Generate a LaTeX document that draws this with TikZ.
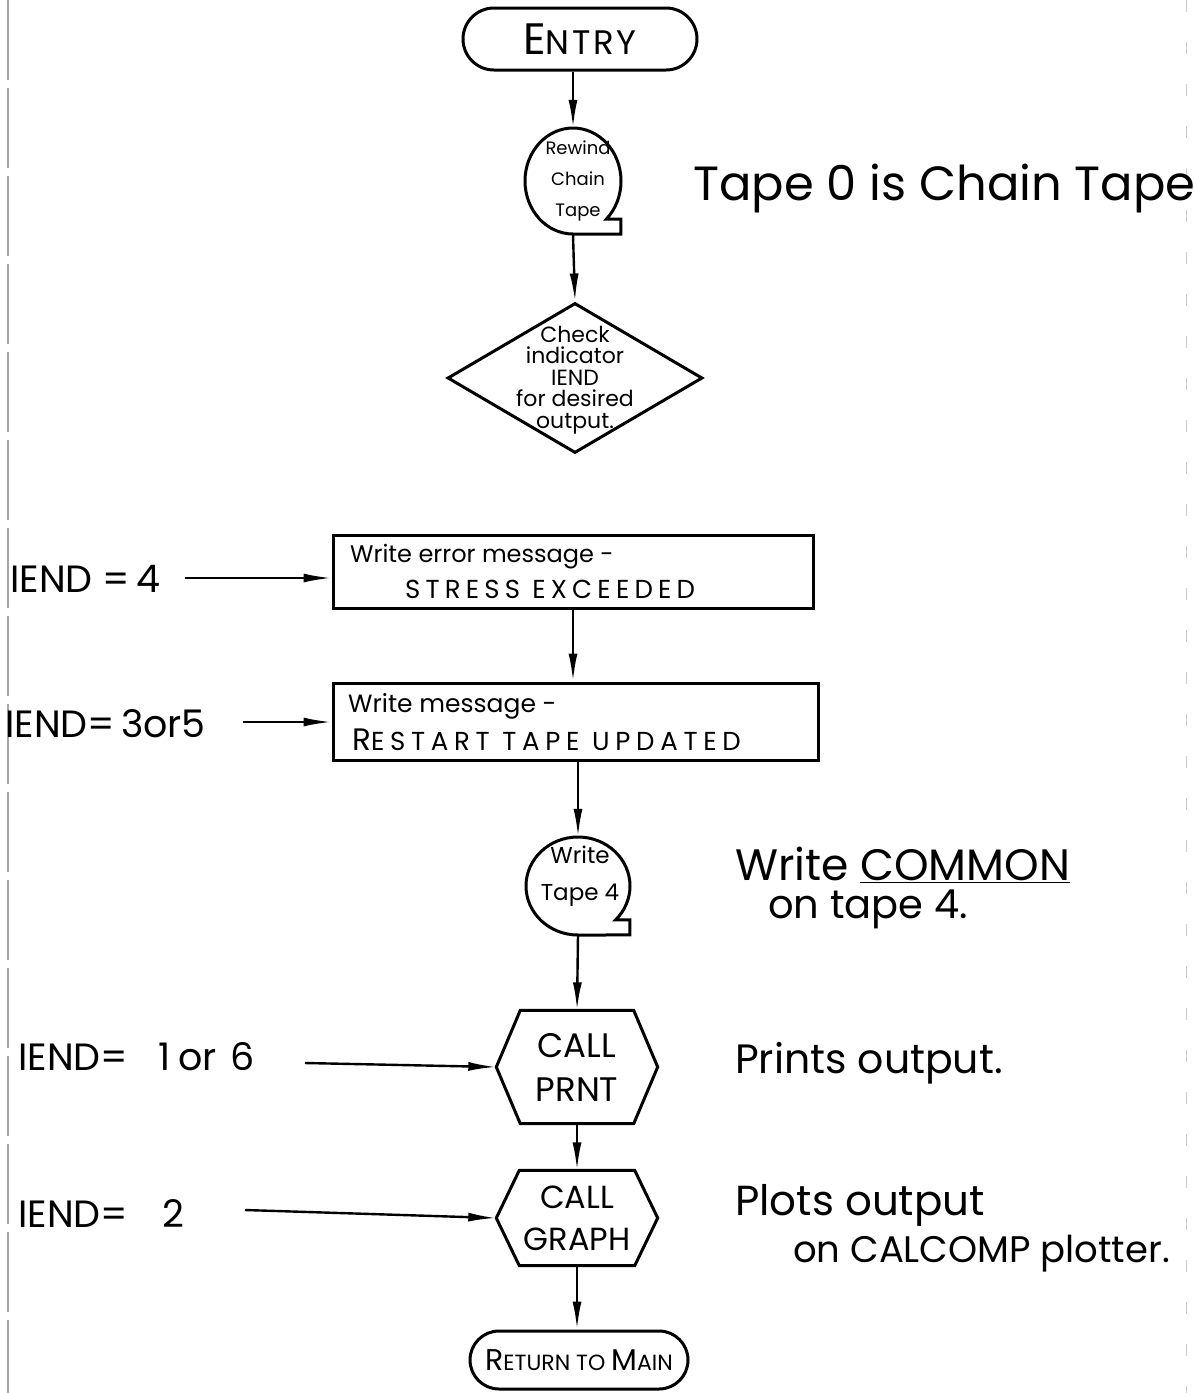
\documentclass[tikz,border=0pt]{standalone}
\usepackage{fontspec}
\setmainfont{Poppins}
\usetikzlibrary{arrows.meta,shapes.geometric}
\newcommand\fs[2]{\fontsize{#1}{#2}\selectfont}
\newcommand\ls[1]{\addfontfeatures{LetterSpace=#1}}
\begin{document}
\begin{tikzpicture}[x=1pt,y=1pt,
  conn/.style={line width=2.4pt,-{Latex[length=28pt,width=9pt]}},
  shp/.style={draw, line width=3pt, inner sep=0pt},
  outl/.style={line width=3pt},
  lbl/.style={inner sep=0pt, anchor=base west},
  big/.style={font=\fs{38}{40}},
]
\useasboundingbox (0,0) rectangle (1194,-1393);
\fill[white] (0,0) rectangle (1194,-1393);
% page edges
\draw[gray!70, line width=1.2pt, dash pattern=on 80pt off 8pt] (8,0) -- (8,-1393);
\draw[gray!40, line width=1pt, dash pattern=on 12pt off 30pt] (1186,0) -- (1186,-1393);

% ENTRY
\node[shp, rounded corners=31pt, minimum width=234pt, minimum height=62pt] (entry) at (580,-39) {\fs{44}{44}\ls{8}E\fs{34}{34}\ls{8}NTRY};

% tape 1
\node[ellipse, minimum width=96pt, minimum height=106pt, inner sep=0pt] (t1) at (573,-181) {};
\draw[outl] (t1.center) ++(0,-53) arc[start angle=270,end angle=-45.8,x radius=48pt,y radius=53pt] -- ++(14.5,0) -- ++(0,-15) -- cycle;
\node[align=center, font=\fs{18}{31}, inner sep=0pt] (t1t) at (578,-181) {Rewind\\Chain\\Tape};

% diamond
\node[diamond, draw, line width=3pt, minimum width=255pt, minimum height=150pt, inner sep=0pt] (chk) at (575,-378) {};
\node[align=center, font=\fs{22}{21.5}, inner sep=0pt] (chkt) at ([yshift=-2pt]chk.center) {Check\\indicator\\IEND\\for desired\\output.};

% boxes
\node[shp, minimum width=480pt, minimum height=73pt] (b1) at (573,-571.5) {};
\node[lbl, font=\fs{24}{26}] (b1a) at (350,-562) {Write error message -};
\node[lbl, font=\fs{26}{26}] (b1b) at (405,-598) {\ls{20}STRESS EXCEEDED};

\node[shp, minimum width=485pt, minimum height=77pt] (b2) at (575.5,-721.5) {};
\node[lbl, font=\fs{25}{26}] (b2a) at (348,-712) {Write message -};
\node[lbl, font=\fs{31}{26}] (b2b) at (352,-750) {\ls{20}R{\fs{26}{26}\ls{22}ESTART TAPE UPDATED}};

% tape 2
\node[ellipse, minimum width=104pt, minimum height=98pt, inner sep=0pt] (t2) at (578,-886) {};
\draw[outl] (t2.center) ++(0,-49) arc[start angle=270,end angle=-43.9,x radius=52pt,y radius=49pt] -- ++(14.5,0) -- ++(0,-15) -- cycle;
\node[align=center, font=\fs{23}{37}, inner sep=0pt] (t2t) at (580,-876) {Write\\Tape 4};

% hexagons
\node[minimum width=161pt, minimum height=113pt, inner sep=0pt, align=center, font=\fs{34}{44}] (h1) at (577,-1067) {CALL\\PRNT};
\draw[outl] (h1.west) -- ([xshift=24pt]h1.north west) -- ([xshift=-24pt]h1.north east) -- (h1.east) -- ([xshift=-24pt]h1.south east) -- ([xshift=24pt]h1.south west) -- cycle;

\node[minimum width=161pt, minimum height=95pt, inner sep=0pt, align=center, font=\fs{32}{42}] (h2) at (577,-1218) {CALL\\GRAPH};
\draw[outl] (h2.west) -- ([xshift=23pt]h2.north west) -- ([xshift=-23pt]h2.north east) -- (h2.east) -- ([xshift=-23pt]h2.south east) -- ([xshift=23pt]h2.south west) -- cycle;

% return
\node[shp, rounded corners=29pt, minimum width=218pt, minimum height=58pt] (ret) at (579,-1360) {\fs{30}{30}R\fs{22}{22}ETURN TO \fs{30}{30}M\fs{22}{22}AIN};

% main flow
\draw[conn] (t1.north |- entry.south) -- (t1.north);
\draw[conn] (t1.south) -- (chk.north);
\draw[conn] (b1.south) -- (b1.south |- b2.north);
\draw[conn] (t2.north |- b2.south) -- (t2.north);
\draw[conn] (t2.south) -- (h1.north);
\draw[conn] (h1.south) -- (h2.north);
\draw[conn] (h2.south) -- (h2.south |- ret.north);

% left entries
\node[lbl, big] (l4) at (10,-592) {IEND =\hspace{6pt}4};
\coordinate (a4) at (185,-578);
\draw[conn] (a4) -- (a4 -| b1.west);
\node[lbl, big] (l35) at (5,-737) {IEND=\hspace{6pt}3or5};
\coordinate (a35) at (243,-722);
\draw[conn] (a35) -- (a35 -| b2.west);
\node[lbl, big] (l16) at (18,-1070) {IEND=\hspace{30pt}1\hspace{8pt}or\hspace{14pt}6};
\coordinate (a16) at (305,-1063);
\draw[conn] (a16) -- (h1.west);
\node[lbl, big] (l2) at (18,-1227) {IEND=\hspace{34pt}2};
\coordinate (a2) at (245,-1210);
\draw[conn] (a2) -- (h2.west);

% notes
\node[lbl, font=\fs{48}{50}] (n1) at (693,-200) {Tape 0 is Chain Tape};
\node[lbl, font=\fs{44}{50}] (n2) at (735,-880) {Write \underline{COMMON}};
\node[lbl, font=\fs{40}{50}] (n3) at (768,-918) {on tape 4.};
\node[lbl, font=\fs{41}{50}] (n4) at (735,-1073) {Prints output.};
\node[lbl, font=\fs{42}{50}] (n5) at (735,-1215) {Plots output};
\node[lbl, font=\fs{37}{50}] (n6) at (793,-1262) {on CALCOMP plotter.};
\end{tikzpicture}
\end{document}
